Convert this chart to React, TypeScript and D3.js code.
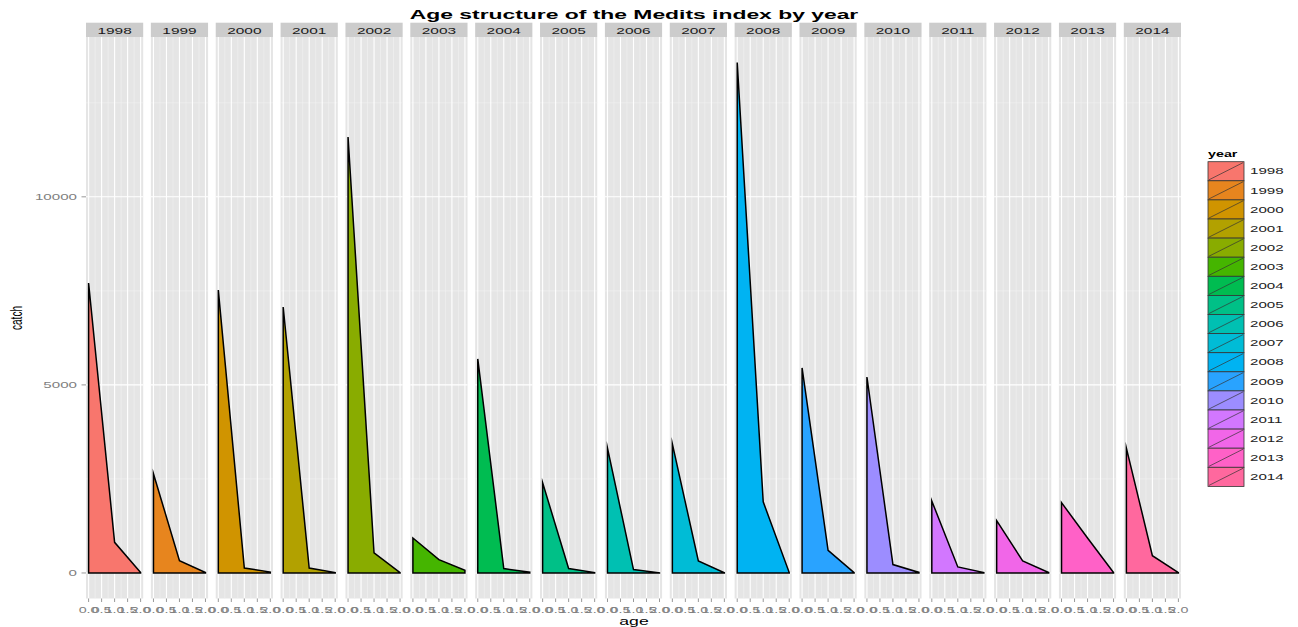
import React from "react";
import * as d3 from "d3";

const years = ["1998","1999","2000","2001","2002","2003","2004","2005","2006","2007","2008","2009","2010","2011","2012","2013","2014"];
const ages = [0, 1, 2];
const catchAge0 = [7710, 2640, 7520, 7070, 11590, 930, 5690, 2400, 3320, 3430, 13570, 5450, 5210, 1915, 1390, 1870, 3320];
const catchAge1 = [814, 327, 130, 130, 532, 356, 117, 117, 90, 319, 1890, 604, 223, 160, 320, 930, 460];
const catchAge2 = [15, 10, 25, 10, 10, 70, 20, 10, 5, 5, 10, 10, 15, 10, 10, 10, 10];
const xTicks = [0, 0.5, 1, 1.5, 2];
const xMinor = [0.25, 0.75, 1.25, 1.75];
const yTicks = [0, 5000, 10000];
const yMinor = [2500, 7500, 12500];

// R-style hcl() (polar CIELUV) -> sRGB
function hclR(h: number, c: number, l: number): string {
  const hr = (h * Math.PI) / 180;
  const L = l, U = c * Math.cos(hr), V = c * Math.sin(hr);
  const Xn = 95.047, Yn = 100, Zn = 108.883;
  const Y = Yn * (L > 7.999592 ? Math.pow((L + 16) / 116, 3) : L / 903.3);
  const t = Xn + Yn + Zn;
  const x = Xn / t, y = Yn / t;
  const uN = (2 * x) / (6 * y - x + 1.5);
  const vN = (4.5 * y) / (6 * y - x + 1.5);
  const u = U / (13 * L) + uN;
  const v = V / (13 * L) + vN;
  const X = (9 * Y * u) / (4 * v);
  const Z = -X / 3 - 5 * Y + (3 * Y) / v;
  const g = (q: number) => {
    const s = q <= 0.0031308 ? 12.92 * q : 1.055 * Math.pow(q, 1 / 2.4) - 0.055;
    return Math.round(Math.max(0, Math.min(1, s)) * 255);
  };
  const r = (3.240479 * X - 1.53715 * Y - 0.498535 * Z) / Yn;
  const gg = (-0.969256 * X + 1.875992 * Y + 0.041556 * Z) / Yn;
  const b = (0.055648 * X - 0.204043 * Y + 1.057311 * Z) / Yn;
  return d3.rgb(g(r), g(gg), g(b)).formatHex();
}

const n = years.length;
const hues = d3.range(n).map((i) => 15 + (360 / n) * i);
const colors = hues.map((h) => hclR(h, 100, 65));

const W = 1298, H = 627;
const SX = 1.68;
const FONT = "'Liberation Sans', Arial, Helvetica, sans-serif";

const plotLeft = 86, plotRight = 1181;
const panelTop = 37, panelBottom = 598.5;
const stripTop = 22.7;

const band = d3.scaleBand<string>().domain(years).range([plotLeft, plotRight]).paddingInner(0.118).paddingOuter(0);
const xScale = d3.scaleLinear().domain([-0.1, 2.1]).range([0, band.bandwidth()]);
const maxV = d3.max([...catchAge0, ...catchAge1, ...catchAge2]) as number;
const yScale = d3.scaleLinear().domain([-0.05 * maxV, 1.05 * maxV]).range([panelBottom, panelTop]);

function T(props: { x: number; y: number; sx?: number; sy?: number; rotate?: number; anchor?: string; size: number; fill?: string; weight?: string; children: React.ReactNode }) {
  const { x, y, sx = SX, sy = 1, rotate = 0, anchor = "start", size, fill = "#000", weight = "normal", children } = props;
  return (
    <text
      transform={`translate(${x},${y}) rotate(${rotate}) scale(${sx},${sy})`}
      textAnchor={anchor}
      fontSize={size}
      fill={fill}
      fontWeight={weight}
      fontFamily={FONT}
    >
      {children}
    </text>
  );
}

const area = d3
  .area<[number, number]>()
  .x((d) => xScale(d[0]))
  .y0(() => yScale(0))
  .y1((d) => yScale(d[1]));

export default function App() {
  const legendX = 1208, legendY = 161.7, keyW = 36, keyH = 19.1;
  return (
    <svg width={W} height={H} style={{ position: "absolute", left: 0, top: 0, background: "#fff" }}>
      <T x={634} y={19.3} size={13} weight="bold" anchor="middle" sx={1.76}>
        Age structure of the Medits index by year
      </T>
      {years.map((yr, i) => {
        const x0 = band(yr) as number;
        const bw = band.bandwidth();
        const pts: [number, number][] = ages.map((a, j) => [a, [catchAge0, catchAge1, catchAge2][j][i]]);
        const d = area(pts) as string;
        return (
          <g key={yr}>
            <rect x={x0} y={stripTop} width={bw} height={panelTop - stripTop} fill="#CCCCCC" />
            <T x={x0 + bw / 2} y={33.8} size={9.2} anchor="middle" fill="#1A1A1A">
              {yr}
            </T>
            <g transform={`translate(${x0},0)`}>
              <rect x={0} y={panelTop} width={bw} height={panelBottom - panelTop} fill="#E5E5E5" />
              {xMinor.map((v) => (
                <line key={"xm" + v} x1={xScale(v)} x2={xScale(v)} y1={panelTop} y2={panelBottom} stroke="#F2F2F2" strokeWidth={0.6} />
              ))}
              {yMinor.map((v) => (
                <line key={"ym" + v} x1={0} x2={bw} y1={yScale(v)} y2={yScale(v)} stroke="#F2F2F2" strokeWidth={0.6} />
              ))}
              {xTicks.map((v) => (
                <line key={"xM" + v} x1={xScale(v)} x2={xScale(v)} y1={panelTop} y2={panelBottom} stroke="#FFFFFF" strokeWidth={1.1} />
              ))}
              {yTicks.map((v) => (
                <line key={"yM" + v} x1={0} x2={bw} y1={yScale(v)} y2={yScale(v)} stroke="#FFFFFF" strokeWidth={1.1} />
              ))}
              <path d={d + "Z"} fill={colors[i]} stroke="#000" strokeWidth={1.5} strokeLinejoin="miter" strokeMiterlimit={10} />
              {xTicks.map((v) => (
                <g key={"xt" + v}>
                  <line x1={xScale(v)} x2={xScale(v)} y1={panelBottom} y2={panelBottom + 3.5} stroke="#7F7F7F" strokeWidth={0.8} />
                  <T x={xScale(v)} y={612.7} size={8.5} anchor="middle" fill="#7F7F7F">
                    {d3.format(".1f")(v)}
                  </T>
                </g>
              ))}
            </g>
          </g>
        );
      })}
      {yTicks.map((v) => (
        <g key={"yt" + v}>
          <line x1={plotLeft - 4.5} x2={plotLeft} y1={yScale(v)} y2={yScale(v)} stroke="#7F7F7F" strokeWidth={0.8} />
          <T x={plotLeft - 9} y={yScale(v) + 3.2} size={9} anchor="end" fill="#7F7F7F">
            {String(v)}
          </T>
        </g>
      ))}
      <T x={634} y={625} size={10.5} anchor="middle" fill="#000">
        age
      </T>
      <T x={21.5} y={318} size={10} anchor="middle" rotate={-90} sx={1} sy={1.6} fill="#000">
        catch
      </T>
      <T x={legendX} y={157} size={8.5} weight="bold" fill="#000">
        year
      </T>
      {years.map((yr, i) => {
        const ky = legendY + i * keyH;
        return (
          <g key={"lg" + yr}>
            <rect x={legendX} y={ky} width={keyW} height={keyH} fill={colors[i]} stroke="#333" strokeWidth={0.8} />
            <line x1={legendX + 1} y1={ky + keyH - 1} x2={legendX + keyW - 1} y2={ky + 1} stroke="#333" strokeWidth={0.7} />
            <T x={legendX + 42} y={ky + keyH / 2 + 3.2} size={9} fill="#222">
              {yr}
            </T>
          </g>
        );
      })}
    </svg>
  );
}
